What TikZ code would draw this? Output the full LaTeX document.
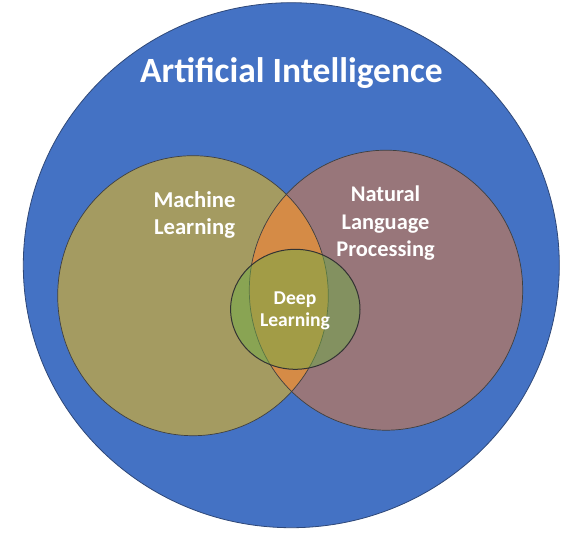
\documentclass[tikz,border=0pt]{standalone}
\usepackage{fontspec}
\setmainfont{Carlito}
\definecolor{aiblue}{RGB}{68,114,196}
\definecolor{aiedge}{RGB}{47,72,120}
\definecolor{mlolive}{RGB}{164,155,97}
\definecolor{nlpmauve}{RGB}{152,118,122}
\definecolor{overlap}{RGB}{213,139,70}
\definecolor{dlgreen}{RGB}{112,173,71}
\begin{document}
\begin{tikzpicture}[x=1pt,y=-1pt]
        \tikzstyle{region}=[draw=black!75,line width=0.7pt]
        \tikzstyle{venntext}=[text=white,font=\bfseries,align=center,inner sep=0pt]
        \useasboundingbox (0,0) rectangle (582,539);
        \coordinate (aic) at (291.3,265.2);
        \coordinate (mlc) at (193,295.7);
        \coordinate (nlpc) at (386,290.2);
        \coordinate (dlc) at (295.3,309.3);
        % outer set
        \fill[aiblue,draw=aiedge,line width=0.8pt] (aic) ellipse [x radius=268, y radius=262.5];
        % the two sets and their overlap
        \fill[mlolive] (mlc) ellipse [x radius=135.3, y radius=140];
        \fill[nlpmauve] (nlpc) ellipse [x radius=136.7, y radius=140];
        \begin{scope}
          \clip (mlc) ellipse [x radius=135.3, y radius=140];
          \fill[overlap] (nlpc) ellipse [x radius=136.7, y radius=140];
        \end{scope}
        \path[region] (mlc) ellipse [x radius=135.3, y radius=140];
        \path[region] (nlpc) ellipse [x radius=136.7, y radius=140];
        % deep learning on top
        \fill[dlgreen,fill opacity=0.5] (dlc) ellipse [x radius=64.7, y radius=60];
        \draw[black!80,line width=1pt] (dlc) ellipse [x radius=64.7, y radius=60];
        \node[venntext,font=\bfseries\fontsize{35.5}{40}\selectfont,anchor=base] (ai) at (291.5,82.5) {Artificial Intelligence};
        \node[venntext,font=\bfseries\fontsize{22.7}{27}\selectfont] (ml) at (194.5,214.5) {Machine\\Learning};
        \node[venntext,font=\bfseries\fontsize{22.4}{27.5}\selectfont] (nlp) at (385.5,223.5) {Natural\\Language\\Processing};
        \node[venntext,font=\bfseries\fontsize{19.6}{22}\selectfont] (dl) at (295,311) {Deep\\Learning};
      \end{tikzpicture}
\end{document}
